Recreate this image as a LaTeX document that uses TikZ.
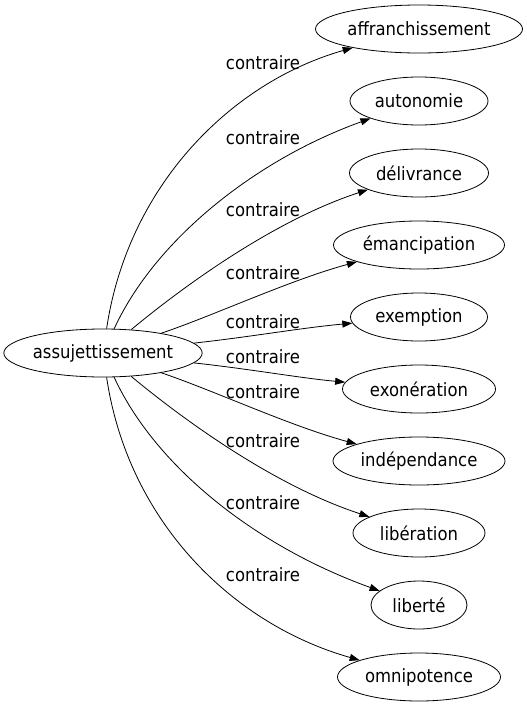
\documentclass[tikz,border=0pt]{standalone}
\usepackage{fontspec}
\setmainfont{DejaVu Sans}[FakeStretch=0.9]
\usetikzlibrary{arrows.meta,shapes.geometric}

\begin{document}
\begin{tikzpicture}[x=1pt,y=-1pt]
      \tikzstyle{mot} = [draw,ellipse,line width=0.8pt,minimum height=48pt,inner sep=0pt,font=\fontsize{18.3}{21}\selectfont]
      \tikzstyle{lien} = [line width=0.8pt,-{Triangle[length=10pt,width=7pt]}]
      \tikzstyle{etiquette} = [inner sep=0pt,font=\fontsize{18.3}{21}\selectfont]

      \useasboundingbox (0,0) rectangle (527,707);
      \node[mot,minimum width=196pt](src) at (103,353) {assujettissement};

      \foreach \n/\t/\w/\xa/\ya/\xb/\yb/\yl
      [count=\i from 0,
      evaluate= \i as \y using {29+72*\i}]
      in {affr/affranchissement/207/128/185/232/82/63,
          auto/autonomie/138/155/240/255/160/138,
          deli/délivrance/139/185/285/275/220/210,
          eman/émancipation/171/215/315/290/280/273,
          exem/exemption/137/250/337/300/328/322,
          exon/exonération/153/250/369/300/378/357,
          inde/indépendance/172/215/391/290/426/392,
          libe/libération/132/185/421/275/486/441,
          libt/liberté/96/155/466/255/546/503,
          omni/omnipotence/163/128/521/232/624/575} {
        \node[mot,minimum width=\w pt](\n) at (419,\y) {\t};
        \draw[lien] (src) .. controls (\xa,\ya) and (\xb,\yb) .. (\n);
        \node[etiquette](lbl\i) at (263,\yl) {contraire};
      }

    \end{tikzpicture}
\end{document}
